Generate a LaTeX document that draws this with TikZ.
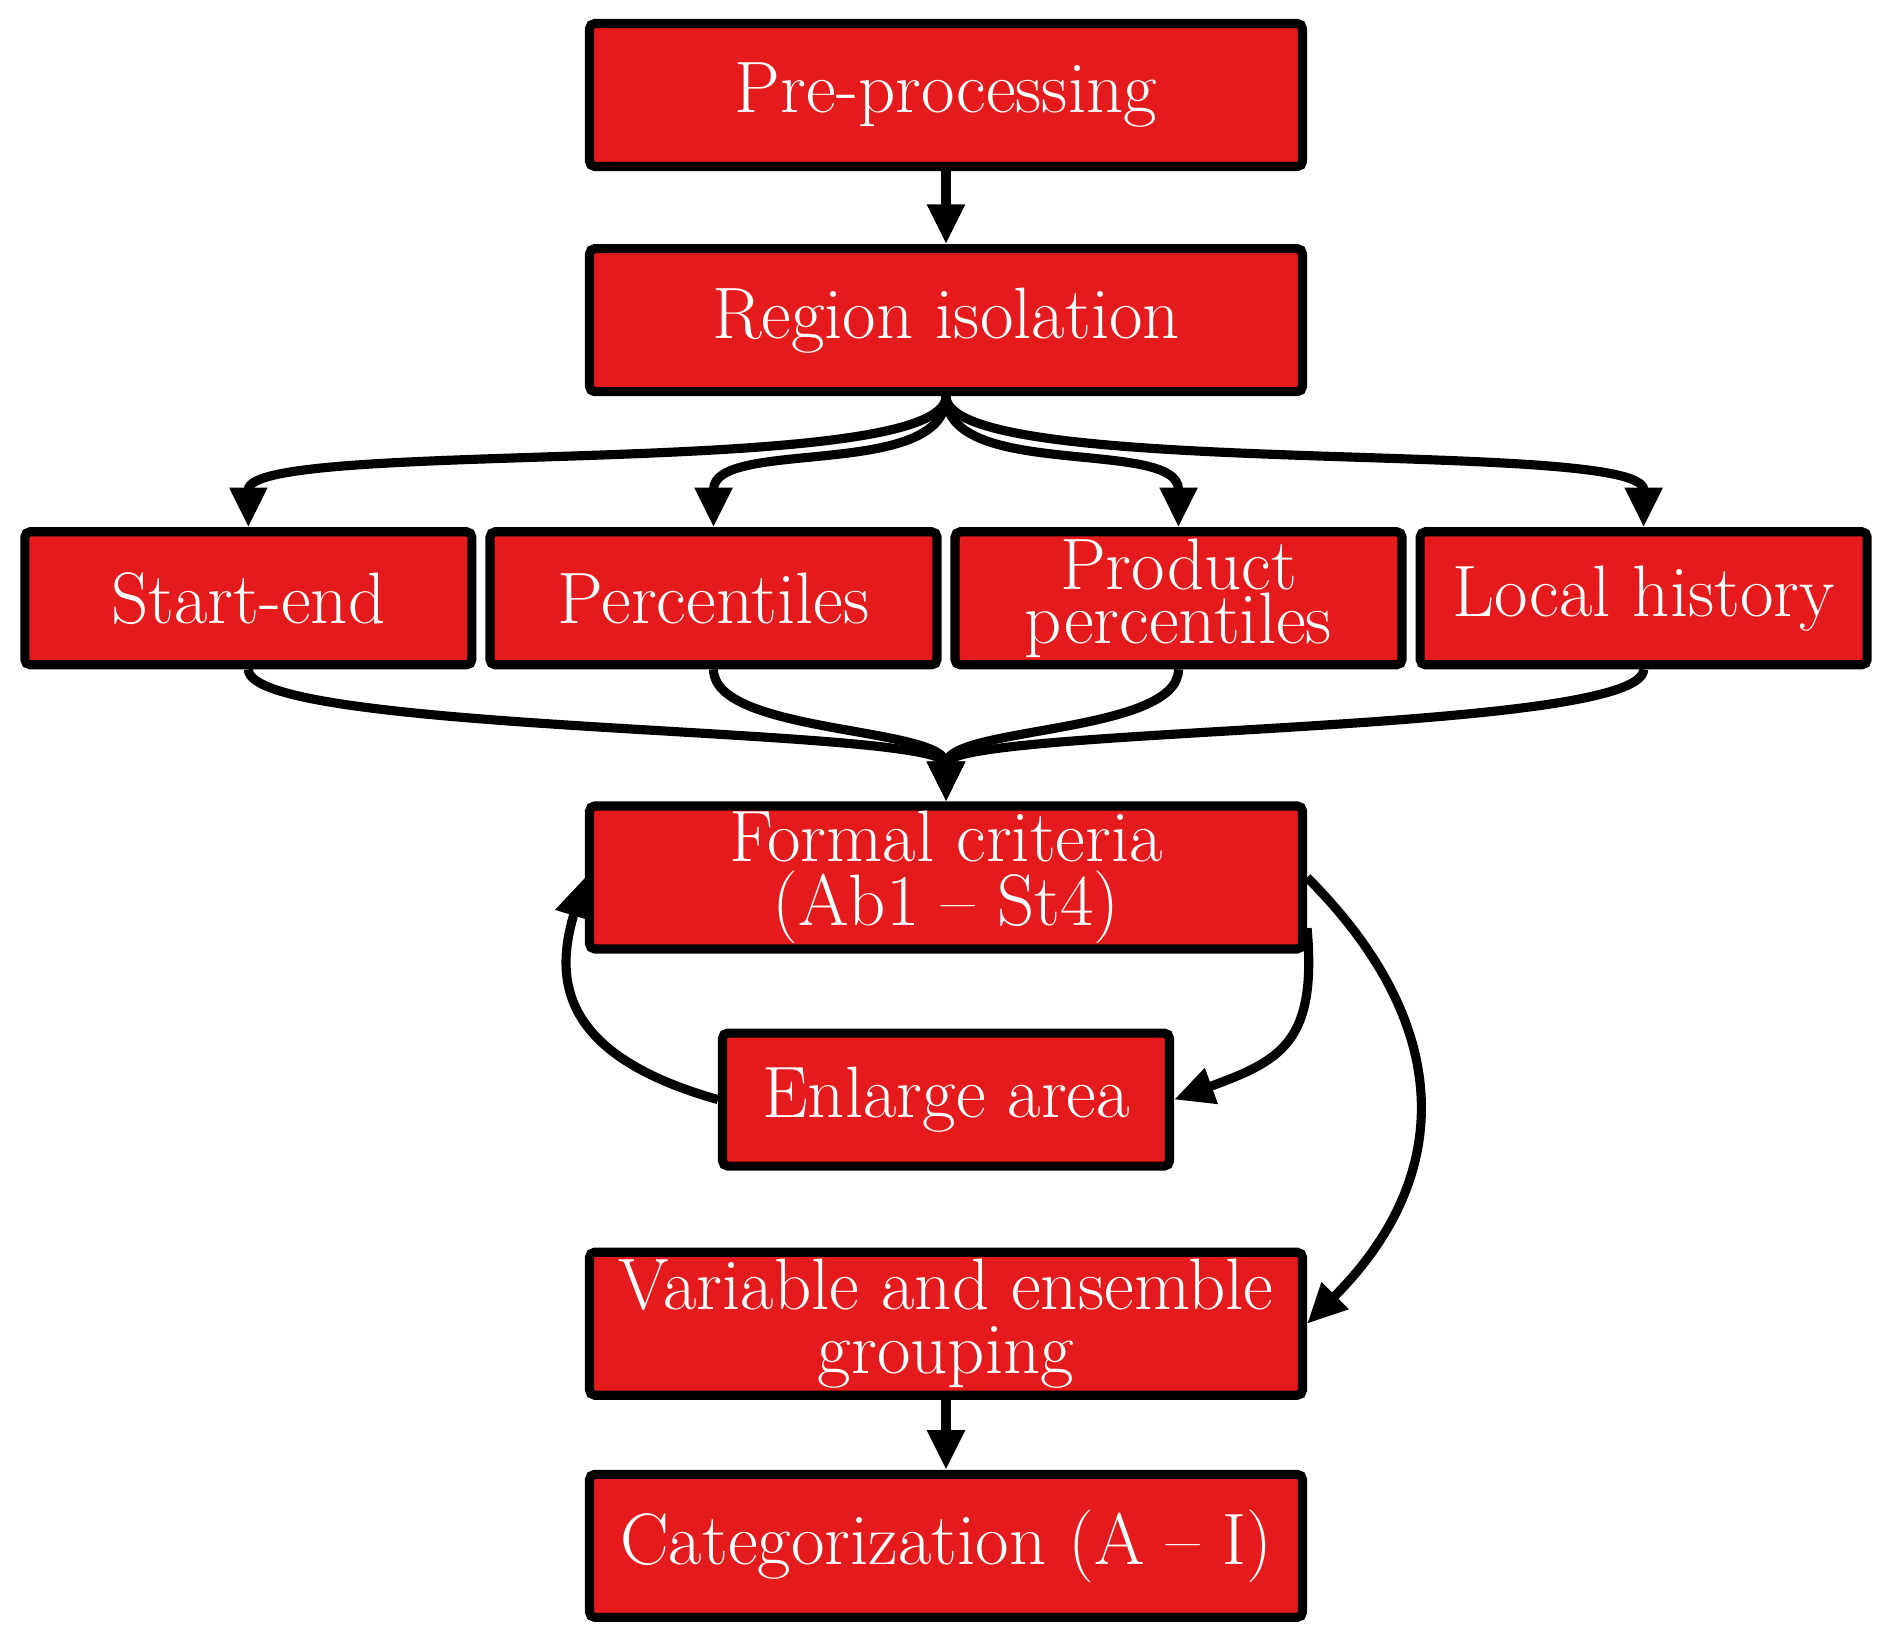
\documentclass[tikz,border=0pt]{standalone}
\usepackage{xcolor}
\usepackage{tikz}
\usetikzlibrary{arrows.meta, positioning}
\definecolor{boxred}{HTML}{E41A1C}

\begin{document}
\begin{tikzpicture}[
    node distance=0.73cm,
    every node/.style={font=\fontsize{20.74}{18}\selectfont, text=white},
    stage/.style={rectangle, draw=black, fill=boxred, line width=2.6pt, minimum width=7.13cm, minimum height=1.43cm, align=center, rounded corners=1.5pt, inner sep=0pt},
    smallstage/.style={stage, minimum width=4.47cm, minimum height=1.33cm},
    link/.style={-{Triangle[length=11.3pt,width=10.2pt]}, line width=2.6pt, draw=black}
]
\useasboundingbox (0,0) rectangle (18.92,-16.45);

% Nodes
\node (pre) [stage] at (9.46,-0.95) {Pre-processing};
\node (region) [stage, below=of pre] {Region isolation};
\node (pct) [smallstage, below=1.31cm of region, xshift=-2.325cm] {Percentiles};
\node (prod) [smallstage, below=1.31cm of region, xshift=2.325cm, font=\fontsize{20.74}{15.5}\selectfont] {Product\\percentiles};
\node (startend) [smallstage, left=0.09cm of pct] {Start-end};
\node (local) [smallstage, right=0.09cm of prod] {Local history};
\coordinate (rowbase) at (pct.south -| region.south);
\node (formal) [stage, below=1.32cm of rowbase] {Formal criteria\\(Ab1 -- St4)};
\node (enlarge) [smallstage, below=0.75cm of formal] {Enlarge area};
\node (group) [stage, below=0.77cm of enlarge] {Variable and ensemble\\grouping};
\node (cat) [stage, below=0.70cm of group] {Categorization (A -- I)};

% Arrows
\draw [link] (pre) -- (region);
\draw [link] (region.south) .. controls +(0,-0.85) and +(0,0.9) .. (startend.north);
\draw [link] (region.south) .. controls +(0,-0.85) and +(0,0.9) .. (pct.north);
\draw [link] (region.south) .. controls +(0,-0.85) and +(0,0.9) .. (prod.north);
\draw [link] (region.south) .. controls +(0,-0.85) and +(0,0.9) .. (local.north);
\draw [link] (startend.south) .. controls +(0,-0.65) and +(0,0.75) .. (formal.north);
\draw [link] (pct.south) .. controls +(0,-0.65) and +(0,0.75) .. (formal.north);
\draw [link] (prod.south) .. controls +(0,-0.65) and +(0,0.75) .. (formal.north);
\draw [link] (local.south) .. controls +(0,-0.65) and +(0,0.75) .. (formal.north);
\draw [link] (formal.-8) to[out=-85, in=20, looseness=1.35] (enlarge.east);
\draw [link] (enlarge.west) .. controls +(-1.6,0.45) and +(-0.3,-1.0) .. (formal.west);
\draw [link] (formal.east) to[out=-45, in=45, looseness=1.2] (group.east);
\draw [link] (group) -- (cat);

\end{tikzpicture}
\end{document}
